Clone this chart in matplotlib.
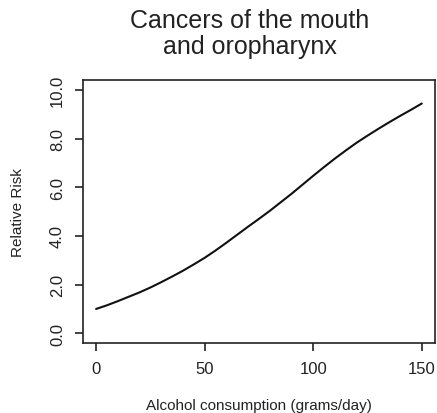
import numpy as np
import matplotlib.pyplot as plt

plt.rcParams['font.family'] = ['Liberation Sans', 'DejaVu Sans']

# Relative risk by alcohol intake
grams_per_day = [0, 5, 10, 15, 20, 25, 30, 35, 40, 45, 50, 55, 60, 65, 70, 75,
                 80, 85, 90, 95, 100, 105, 110, 115, 120, 125, 130, 135, 140,
                 145, 150]
relative_risk = [1.00, 1.15, 1.32, 1.50, 1.68, 1.88, 2.10, 2.33, 2.57, 2.83,
                 3.10, 3.40, 3.72, 4.05, 4.38, 4.70, 5.03, 5.38, 5.73, 6.10,
                 6.47, 6.83, 7.18, 7.51, 7.83, 8.12, 8.40, 8.67, 8.93, 9.18,
                 9.44]
x_ticks = [0, 50, 100, 150]
y_ticks = [0, 2, 4, 6, 8, 10]

fig = plt.figure(figsize=(4.37, 4.14), dpi=100)
ax = fig.add_axes([0.190, 0.169, 0.805, 0.635])

ax.plot(grams_per_day, relative_risk, color='#111111', linewidth=1.5,
        solid_capstyle='round', solid_joinstyle='round')

ax.set_xlim(-6, 156)
ax.set_ylim(-0.4, 10.4)
ax.set_xticks(x_ticks)
ax.set_yticks(y_ticks)
ax.set_yticklabels([f"{v:.1f}" for v in y_ticks], rotation=90, va='center')

for side in ax.spines.values():
    side.set_linewidth(1.2)
    side.set_color('#222222')
ax.tick_params(direction='out', length=6, width=1.2, colors='#222222',
               labelsize=12, labelcolor='#222222')
ax.tick_params(axis='x', pad=7)
ax.tick_params(axis='y', pad=7)

fig.text(18 / 437, 1 - 213 / 414, 'Relative Risk', rotation=90,
         ha='center', va='center', fontsize=11, color='#222222')
fig.text(259 / 437, 1 - 406 / 414, 'Alcohol consumption (grams/day)',
         ha='center', va='center', fontsize=11, color='#222222')
fig.text(250 / 437, 1 - 34 / 414, 'Cancers of the mouth\nand oropharynx',
         ha='center', va='center', fontsize=18, color='#222222',
         linespacing=1.1)

fig.savefig('out.png', dpi=100)
